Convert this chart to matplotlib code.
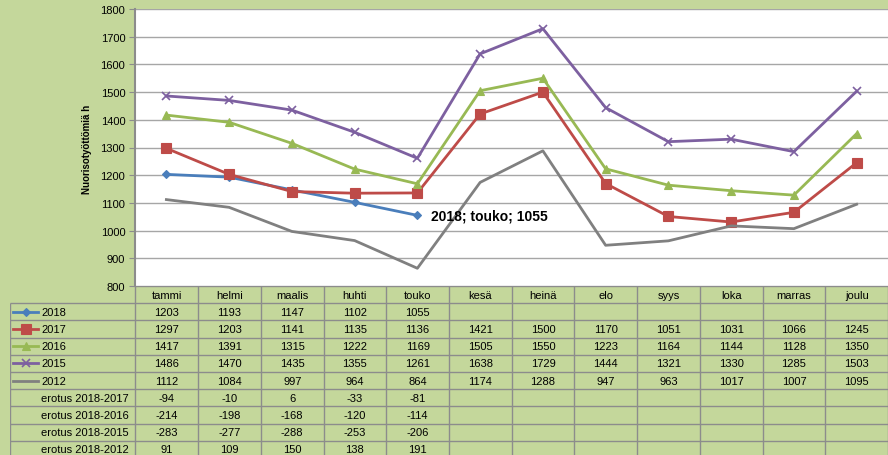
import matplotlib
matplotlib.use("Agg")
import matplotlib.pyplot as plt

plt.rcParams["font.family"] = ["Liberation Sans", "DejaVu Sans"]

months = ["tammi", "helmi", "maalis", "huhti", "touko", "kesä", "heinä",
          "elo", "syys", "loka", "marras", "joulu"]
y2018 = [1203, 1193, 1147, 1102, 1055]
y2017 = [1297, 1203, 1141, 1135, 1136, 1421, 1500, 1170, 1051, 1031, 1066, 1245]
y2016 = [1417, 1391, 1315, 1222, 1169, 1505, 1550, 1223, 1164, 1144, 1128, 1350]
y2015 = [1486, 1470, 1435, 1355, 1261, 1638, 1729, 1444, 1321, 1330, 1285, 1503]
y2012 = [1112, 1084, 997, 964, 864, 1174, 1288, 947, 963, 1017, 1007, 1095]

diff_labels = ["erotus 2018-2017", "erotus 2018-2016",
               "erotus 2018-2015", "erotus 2018-2012"]
d2017 = [-94, -10, 6, -33, -81]
d2016 = [-214, -198, -168, -120, -114]
d2015 = [-283, -277, -288, -253, -206]
d2012 = [91, 109, 150, 138, 191]

series = [
    ("2018", y2018, "#4a7ebb", "D", 4.5),
    ("2017", y2017, "#be4b48", "s", 6.5),
    ("2016", y2016, "#98b954", "^", 6),
    ("2015", y2015, "#7d60a0", "x", 6),
    ("2012", y2012, "#808080", None, 0),
]
diffs = [d2017, d2016, d2015, d2012]

W, H = 888, 456
bg = "#c4d79b"
grid_c = "#a6a6a6"
cell_c = "#8c8c8c"
fs = 8

fig = plt.figure(figsize=(W / 100, H / 100), dpi=100, facecolor=bg)

# main plot area
ax = fig.add_axes([135 / W, (H - 287) / H, 753 / W, 277 / H])
ax.set_facecolor("white")
x = list(range(12))
for name, vals, col, mk, ms in series:
    ax.plot(x[:len(vals)], vals, color=col, lw=2, marker=mk, ms=ms,
            mew=1.2 if mk == "x" else 0.8, zorder=3)
ax.set_xlim(-0.5, 11.5)
ax.set_ylim(800, 1800)
ax.set_yticks(range(800, 1801, 100))
ax.set_xticks([])
ax.grid(axis="y", color=grid_c, lw=1)
for s in ["top", "right", "bottom"]:
    ax.spines[s].set_visible(False)
ax.spines["left"].set_color("#8c8c8c")
ax.spines["left"].set_linewidth(1.5)
ax.tick_params(axis="y", direction="out", length=4, color="#8c8c8c",
               labelsize=fs, pad=3)
ax.annotate("2018; touko; 1055", xy=(4, y2018[4]), xytext=(14, 0),
            textcoords="offset pixels", va="center", ha="left",
            fontsize=10, fontweight="bold", color="black")

fig.text(87 / W, 1 - 149 / H, "Nuorisotyöttömiä h", rotation=90,
         ha="center", va="center", fontsize=7, fontweight="bold")

# data table below the plot
row_h = 17.2
tab_h = H - 287
axt = fig.add_axes([10 / W, 0, 878 / W, tab_h / H])
axt.set_xlim(-2.5, 11.5)
axt.set_ylim(tab_h / row_h, 0)
axt.axis("off")
axt.patch.set_alpha(0)

nrows = 1 + len(series) + len(diffs)
axt.hlines(0, -0.5, 11.5, color=cell_c, lw=1)
for r in range(1, nrows + 1):
    axt.hlines(r, -2.5, 11.5, color=cell_c, lw=1)
axt.vlines(-2.5, 1, nrows + 1, color=cell_c, lw=1)
for c in range(13):
    axt.vlines(c - 0.5, 0, nrows + 1, color=cell_c, lw=1)

for i, m in enumerate(months):
    axt.text(i, 0.5, m, ha="center", va="center", fontsize=fs)

r = 1
for name, vals, col, mk, ms in series:
    yy = r + 0.5
    axt.plot([-2.45, -2.05], [yy, yy], color=col, lw=2)
    if mk:
        axt.plot([-2.25], [yy], color=col, marker=mk, ms=ms,
                 mew=1.2 if mk == "x" else 0.8)
    axt.text(-2.0, yy, name, ha="left", va="center", fontsize=fs)
    for i, v in enumerate(vals):
        axt.text(i, yy, str(v), ha="center", va="center", fontsize=fs)
    r += 1

for lab, vals in zip(diff_labels, diffs):
    yy = r + 0.5
    axt.text(-2.0, yy, lab, ha="left", va="center", fontsize=fs)
    for i, v in enumerate(vals):
        axt.text(i, yy, str(v), ha="center", va="center", fontsize=fs)
    r += 1

fig.savefig("out.png", dpi=100, facecolor=bg)
